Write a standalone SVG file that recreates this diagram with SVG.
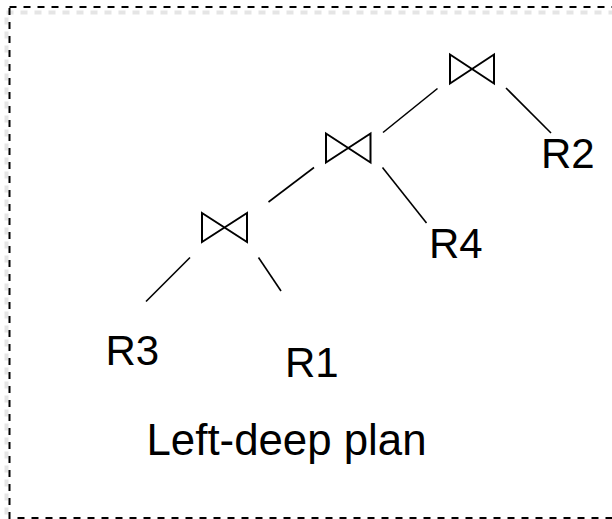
<svg xmlns="http://www.w3.org/2000/svg" width="612" height="519" viewBox="0 0 612 519">
<defs>
<style>
.frame{fill:none;stroke:#000;stroke-width:2;stroke-dasharray:7 7}
.shadow{fill:none;stroke:#ccc;stroke-width:4;stroke-dasharray:7 7;opacity:0.5}
.join{fill:none;stroke:#000;stroke-width:2;stroke-linejoin:miter}
.edge{fill:none;stroke:#000;stroke-width:1.6}
.lbl{font-family:"Liberation Sans",Arial,sans-serif;font-size:42px;fill:#000}
.cap{font-size:43.8px}
</style>
</defs>
<rect width="612" height="519" fill="#fff"/>
<rect class="shadow" x="6.5" y="12.5" width="620" height="520"/>
<rect class="frame" x="9.5" y="7" width="620" height="511"/>
<g id="join3"><path class="join" d="M450,54.5 L494,83.5 L494,54.5 L450,83.5 Z"/></g>
<g id="join2"><path class="join" d="M326,133.5 L370.5,162.5 L370.5,133.5 L326,162.5 Z"/></g>
<g id="join1"><path class="join" d="M202,213 L247,242 L247,213 L202,242 Z"/></g>
<g id="R2"><text class="lbl" x="541" y="168">R2</text></g>
<g id="R4"><text class="lbl" x="429" y="258">R4</text></g>
<g id="R3"><text class="lbl" x="105.5" y="365">R3</text></g>
<g id="R1"><text class="lbl" x="285" y="377">R1</text></g>
<g id="caption"><text class="lbl cap" x="146.5" y="455">Left-deep plan</text></g>
<g id="connectors">
<line class="edge" x1="506" y1="88" x2="551" y2="133"/>
<line class="edge" x1="437.5" y1="88.5" x2="383" y2="132.5"/>
<line class="edge" x1="382.5" y1="167.5" x2="426.5" y2="223"/>
<line class="edge" x1="314" y1="167.5" x2="268.5" y2="202"/>
<line class="edge" x1="190" y1="257.5" x2="146" y2="301.5"/>
<line class="edge" x1="258.5" y1="257.5" x2="281" y2="291"/>
</g>
</svg>
